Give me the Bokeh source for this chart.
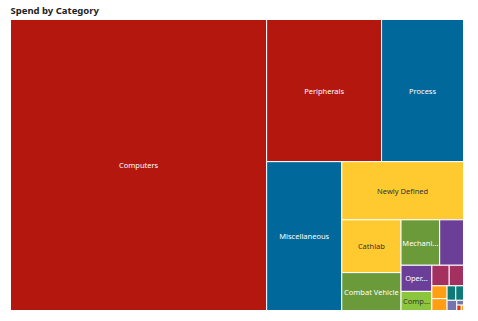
from bokeh.plotting import figure
from bokeh.models import Range1d, ColumnDataSource
from bokeh.core.properties import value
from bokeh.embed import file_html
from bokeh.resources import INLINE

title = "Spend by Category"

categories = ["Computers", "Peripherals", "Process", "Miscellaneous", "Newly Defined",
              "Cathlab", "Combat Vehicle", "Mechanical", "Medical", "Operations",
              "Components", "Laboratory", "Furniture", "Facilities", "Office",
              "Software", "Services", "Training", "Travel", "Safety", "Other"]
spend = [74500, 16330, 11640, 11175, 7076, 3127, 2242, 1755, 1080, 806, 589,
         357, 294, 195, 180, 126, 112, 99, 32, 24, 12]
labels = ["Computers", "Peripherals", "Process", "Miscellaneous", "Newly Defined",
          "Cathlab", "Combat Vehicle", "Mechani...", "", "Oper...", "Comp...",
          "", "", "", "", "", "", "", "", "", ""]
colors = ["#B3170E", "#B3170E", "#01689B", "#01689B", "#FFCA2F", "#FFCA2F",
          "#6A9A3A", "#6A9A3A", "#6B3E98", "#6B3E98", "#8CC63E", "#A3305E",
          "#A3305E", "#FF9E12", "#FF9E12", "#0C7B78", "#0C7B78", "#7474B0",
          "#7474B0", "#D63A12", "#FF9E12"]
label_colors = ["white", "white", "white", "white", "#333333", "#333333", "white",
                "white", "white", "white", "#333333", "white", "white", "white",
                "white", "white", "white", "white", "white", "white", "white"]

W, H = 478, 321
X0, Y0, DX, DY = 10, 19, 453, 291


def worst(row, w):
    s = sum(row)
    return max(max(w * w * r / (s * s), s * s / (w * w * r)) for r in row)


def squarify(vals, x, y, dx, dy):
    tot = sum(vals)
    vals = [v * dx * dy / tot for v in vals]
    rects = []
    while vals:
        short = min(dx, dy)
        row = [vals[0]]
        i = 1
        while i < len(vals) and worst(row + [vals[i]], short) <= worst(row, short):
            row.append(vals[i])
            i += 1
        s = sum(row)
        if dx >= dy:
            w = s / dy
            yy = y
            for v in row:
                h = v / w
                rects.append((x, yy, w, h))
                yy += h
            x += w
            dx -= w
        else:
            h = s / dx
            xx = x
            for v in row:
                w = v / h
                rects.append((xx, y, w, h))
                xx += w
            y += h
            dy -= h
        vals = vals[i:]
    return rects


rects = squarify(spend, X0, Y0, DX, DY)
src = ColumnDataSource(dict(
    left=[r[0] for r in rects], right=[r[0] + r[2] for r in rects],
    top=[r[1] for r in rects], bottom=[r[1] + r[3] for r in rects],
    cx=[r[0] + r[2] / 2 for r in rects], cy=[r[1] + r[3] / 2 for r in rects],
    color=colors, label=labels, lcolor=label_colors, name=categories,
))

p = figure(width=W, height=H, output_backend="svg", toolbar_location=None,
           x_range=Range1d(0, W), y_range=Range1d(H, 0), min_border=0)
p.axis.visible = False
p.grid.visible = False
p.outline_line_color = None
p.background_fill_color = "white"
p.border_fill_color = "white"

p.quad(left="left", right="right", top="top", bottom="bottom", source=src,
       fill_color="color", line_color="white", line_width=1)
p.text(x="cx", y="cy", text="label", source=src, text_color="lcolor",
       text_align="center", text_baseline="middle",
       text_font=value("Noto Sans"), text_font_size="7.5px")
p.text(x=[X0], y=[Y0 - 9], text=[title], text_align="left", text_baseline="middle",
       text_font=value("Noto Sans"), text_font_size="9.5px", text_font_style="bold",
       text_color="#222222")

open("out.html", "w").write(file_html(p, INLINE))
